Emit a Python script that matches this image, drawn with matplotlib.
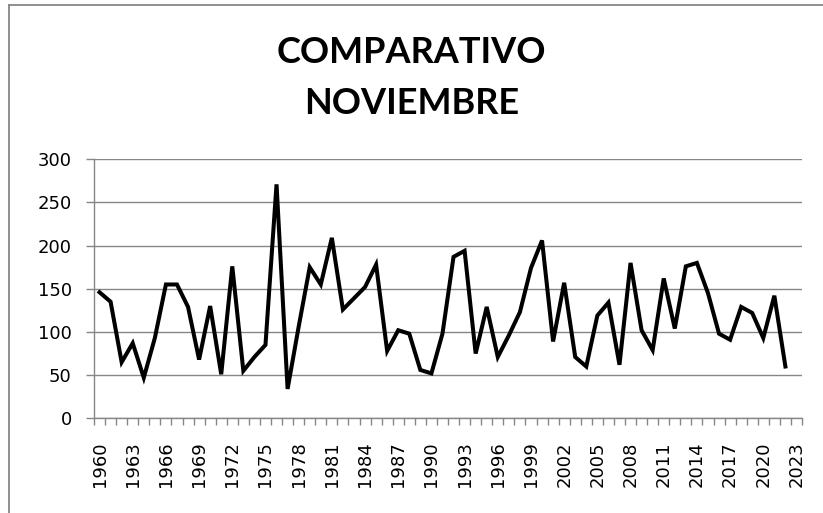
import matplotlib

matplotlib.use("Agg")
import matplotlib.pyplot as plt
from matplotlib.lines import Line2D

plt.rcParams["font.family"] = ["DejaVu Sans"]

YEARS = list(range(1960, 2024))
VALUES = [
    146, 135, 65, 87, 47, 93, 155, 155, 129, 68,
    130, 51, 176, 55, 71, 85, 271, 34, 106, 175,
    155, 209, 126, 139, 152, 178, 78, 102, 98, 56,
    52, 98, 187, 194, 75, 129, 71, 96, 123, 174,
    206, 89, 157, 71, 60, 119, 134, 62, 180, 102,
    79, 162, 104, 176, 180, 145, 98, 91, 129, 122,
    93, 142, 60,
]
Y_TICKS = [0, 50, 100, 150, 200, 250, 300]
TITLE_LINES = ["COMPARATIVO", "NOVIEMBRE"]

GRID = "#868686"

fig = plt.figure(figsize=(8.23, 5.13), dpi=100)
ax = fig.add_axes([94 / 823, 1 - 418.3 / 513, (802 - 94) / 823, (418.3 - 159.3) / 513])

xs = [i + 0.5 for i in range(len(VALUES))]
ax.plot(xs, VALUES, color="black", linewidth=2.9, solid_joinstyle="miter", zorder=3)

ax.set_xlim(0, len(YEARS))
ax.set_ylim(Y_TICKS[0], Y_TICKS[-1])
ax.set_yticks(Y_TICKS)
ax.set_yticklabels([str(v) for v in Y_TICKS], fontsize=13)
ax.grid(axis="y", color=GRID, linewidth=1.0, zorder=1)
ax.set_axisbelow(True)

# category labels every 3rd year, centred between tick marks
lab_idx = list(range(0, len(YEARS), 3))
ax.set_xticks([i + 0.5 for i in lab_idx])
ax.set_xticklabels([str(YEARS[i]) for i in lab_idx], rotation=90, fontsize=13)
ax.set_xticks(range(len(YEARS) + 1), minor=True)
ax.tick_params(axis="x", which="major", length=0, pad=16.5)
ax.tick_params(axis="x", which="minor", length=5, color=GRID, width=1.0)
ax.tick_params(axis="y", length=5.5, color=GRID, width=1.0, pad=10.5)

for s in ["top", "right"]:
    ax.spines[s].set_visible(False)
for s in ["left", "bottom"]:
    ax.spines[s].set_color(GRID)
    ax.spines[s].set_linewidth(1.0)

for line, ypx in zip(TITLE_LINES, [52.5, 104]):
    fig.text(0.5, 1 - ypx / 513, line, ha="center", va="center", fontsize=26,
             fontweight="bold", family=["Lato", "DejaVu Sans"])

# chart area border (cropped on right and bottom)
fig.add_artist(Line2D([8.5 / 823, 8.5 / 823], [0, 1 - 5 / 513], color=GRID, linewidth=1.3))
fig.add_artist(Line2D([8.5 / 823, 1], [1 - 5 / 513, 1 - 5 / 513], color=GRID, linewidth=1.3))

fig.savefig("out.png", dpi=100, facecolor="white")
